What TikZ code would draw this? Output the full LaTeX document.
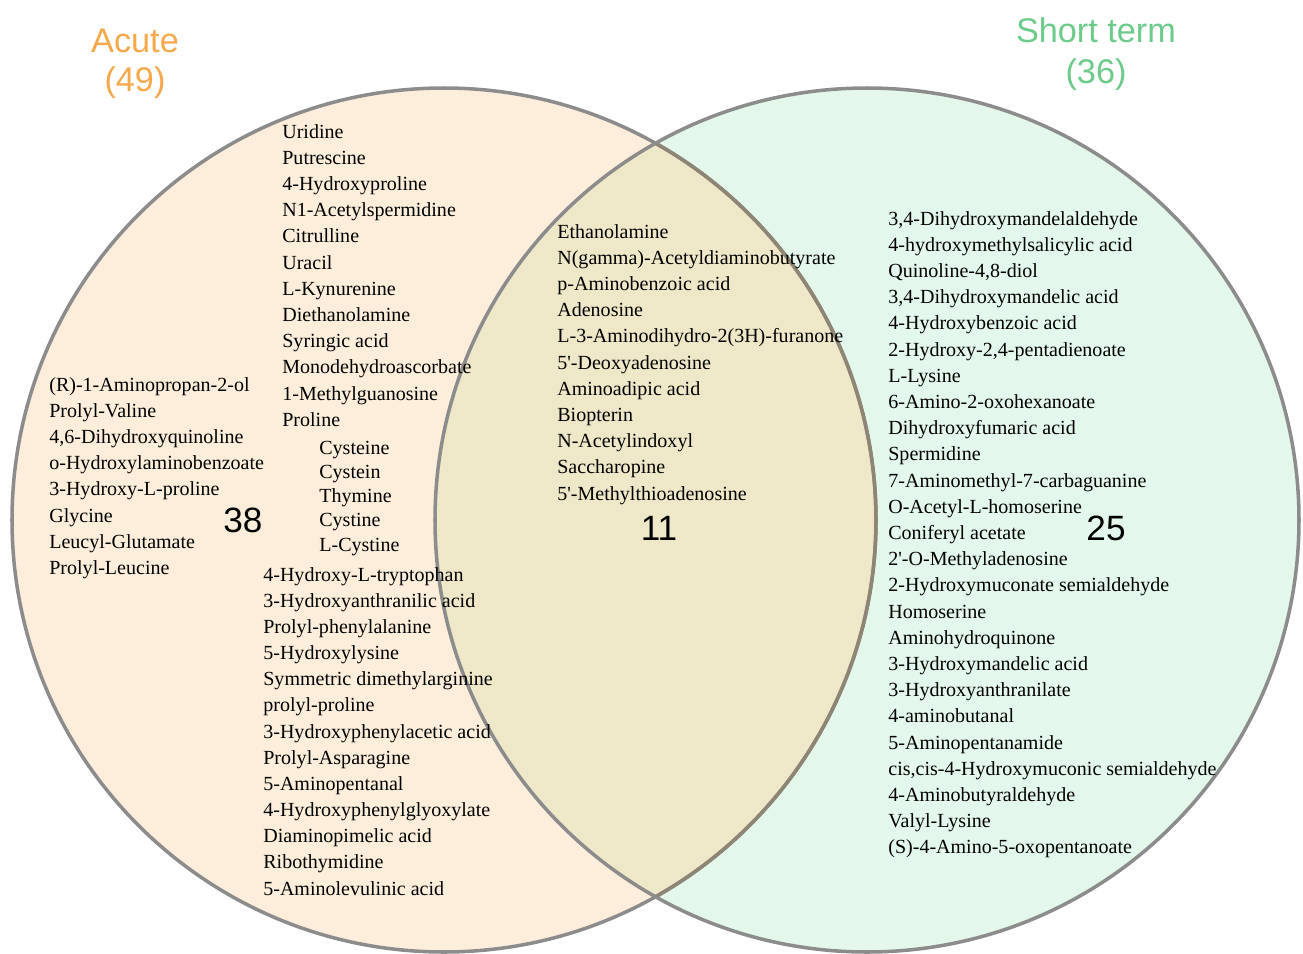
\documentclass[tikz,border=0pt]{standalone}
\usepackage{fontspec}
\setmainfont{Liberation Serif}
\newfontfamily\arialfont{Liberation Sans}
\definecolor{acutefill}{HTML}{FDEEDB}
\definecolor{shortfill}{HTML}{E4F7EB}
\definecolor{bothfill}{HTML}{EEE8C8}
\definecolor{rimgray}{HTML}{8C8C8C}
\definecolor{rimbrown}{HTML}{8E8574}
\definecolor{acuteorange}{HTML}{F7A84B}
\definecolor{shortgreen}{HTML}{6CCB8A}
\tikzset{
  item/.style={anchor=base west, inner sep=0pt, font=\fontsize{11.4}{13}\selectfont},
  setlabel/.style={align=center, inner sep=0pt, font=\arialfont\fontsize{19.5}{22}\selectfont},
  count/.style={inner sep=0pt, font=\arialfont\fontsize{20}{22}\selectfont}
}
\begin{document}
\begin{tikzpicture}[x=0.02cm, y=-0.02cm]
	\useasboundingbox (0,0) rectangle (1303,954);
	% Sets
	\fill [acutefill] (444,520) circle [radius=432];
	\fill [shortfill] (867,520) circle [radius=432];
	\begin{scope}
		\clip (444,520) circle [radius=432];
		\fill [bothfill] (867,520) circle [radius=432];
	\end{scope}
	\draw [rimgray, line width=2pt] (444,520) circle [radius=432];
	\begin{scope}
		\clip (867,520) circle [radius=432];
		\draw [rimbrown, line width=2pt] (444,520) circle [radius=432];
	\end{scope}
	\draw [rimgray, line width=2pt] (867,520) circle [radius=432];
	% Titles
	\node [setlabel, text=acuteorange] (acute) at (135,64) {Acute\\(49)};
	\node [setlabel, text=shortgreen, font=\arialfont\fontsize{19.5}{23.5}\selectfont] (shortterm) at (1096,54) {Short term\\(36)};
	% Counts
	\node [count] (n38) at (243,520) {38};
	\node [count] (n11) at (659,528) {11};
	\node [count] (n25) at (1106,528) {25};
	% Acute only
	\foreach \t [count=\i] in {{(R)-1-Aminopropan-2-ol}, Prolyl-Valine, {4,6-Dihydroxyquinoline},
			o-Hydroxylaminobenzoate, 3-Hydroxy-L-proline, Glycine, Leucyl-Glutamate, Prolyl-Leucine}
		\node [item] (a\i) at (49, {391+(\i-1)*26.2}) {\t};
	\foreach \t [count=\i] in {Uridine, Putrescine, 4-Hydroxyproline, N1-Acetylspermidine, Citrulline,
			Uracil, L-Kynurenine, Diethanolamine, Syringic acid, Monodehydroascorbate, 1-Methylguanosine, Proline}
		\node [item] (b\i) at (282, {138+(\i-1)*26.2}) {\t};
	\foreach \t [count=\i] in {Cysteine, Cystein, Thymine, Cystine, L-Cystine}
		\node [item] (c\i) at (319, {454+(\i-1)*24.3}) {\t};
	\foreach \t [count=\i] in {4-Hydroxy-L-tryptophan, 3-Hydroxyanthranilic acid, Prolyl-phenylalanine,
			5-Hydroxylysine, Symmetric dimethylarginine, prolyl-proline, 3-Hydroxyphenylacetic acid,
			Prolyl-Asparagine, 5-Aminopentanal, 4-Hydroxyphenylglyoxylate, Diaminopimelic acid,
			Ribothymidine, 5-Aminolevulinic acid}
		\node [item] (d\i) at (263, {581+(\i-1)*26.17}) {\t};
	% Both
	\foreach \t [count=\i] in {Ethanolamine, N(gamma)-Acetyldiaminobutyrate, p-Aminobenzoic acid, Adenosine,
			L-3-Aminodihydro-2(3H)-furanone, 5\textquotesingle-Deoxyadenosine, Aminoadipic acid, Biopterin,
			N-Acetylindoxyl, Saccharopine, 5\textquotesingle-Methylthioadenosine}
		\node [item] (m\i) at (557, {238+(\i-1)*26.2}) {\t};
	% Short term only
	\foreach \t [count=\i] in {{3,4-Dihydroxymandelaldehyde}, 4-hydroxymethylsalicylic acid, {Quinoline-4,8-diol},
			{3,4-Dihydroxymandelic acid}, 4-Hydroxybenzoic acid, {2-Hydroxy-2,4-pentadienoate}, L-Lysine,
			6-Amino-2-oxohexanoate, Dihydroxyfumaric acid, Spermidine, 7-Aminomethyl-7-carbaguanine,
			O-Acetyl-L-homoserine, Coniferyl acetate, 2\textquotesingle-O-Methyladenosine, 2-Hydroxymuconate semialdehyde,
			Homoserine, Aminohydroquinone, 3-Hydroxymandelic acid, 3-Hydroxyanthranilate, 4-aminobutanal,
			5-Aminopentanamide, {cis,cis-4-Hydroxymuconic semialdehyde}, 4-Aminobutyraldehyde, Valyl-Lysine,
			{(S)-4-Amino-5-oxopentanoate}}
		\node [item] (s\i) at (888, {225+(\i-1)*26.2}) {\t};
\end{tikzpicture}
\end{document}
